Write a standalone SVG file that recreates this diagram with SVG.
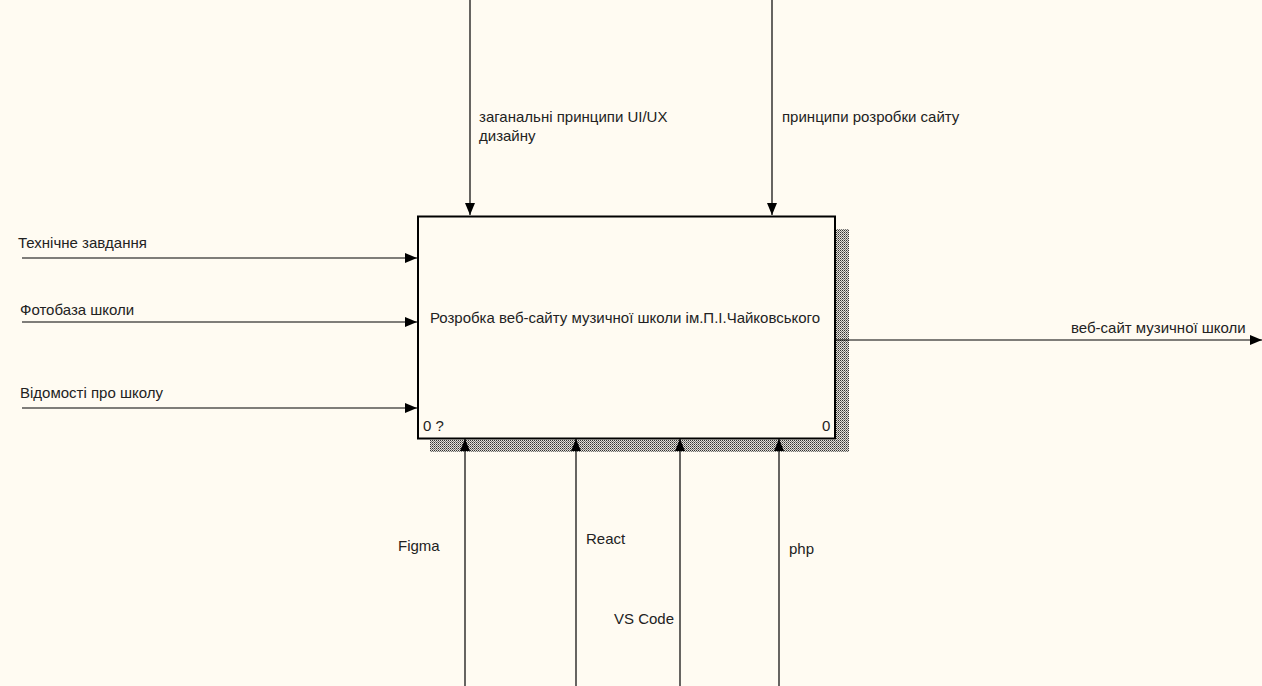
<svg xmlns="http://www.w3.org/2000/svg" width="1262" height="686" viewBox="0 0 1262 686">
<defs>
<pattern id="dots" width="2" height="2" patternUnits="userSpaceOnUse">
<rect width="2" height="2" fill="#e4e0d8"/>
<rect x="0" y="0" width="1" height="1" fill="#333"/>
<rect x="1" y="1" width="1" height="1" fill="#777"/>
</pattern>
<marker id="ah" markerWidth="12" markerHeight="10" refX="12" refY="5" orient="auto" markerUnits="userSpaceOnUse">
<path d="M0,0 L12,5 L0,10 Z" fill="#000"/>
</marker>
</defs>
<style>
.t{font-family:"Liberation Sans",Arial,sans-serif;font-size:15px;fill:#222}
.c{stroke:#000;stroke-width:1.2;fill:none;marker-end:url(#ah)}
</style>
<rect width="1262" height="686" fill="#fffbf2"/>
<g id="node-A0">
<rect x="836" y="229" width="13" height="223" fill="url(#dots)"/>
<rect x="430" y="440" width="419" height="12" fill="url(#dots)"/>
<rect x="418" y="216.5" width="417" height="222" fill="#fffbf2" stroke="#000" stroke-width="2"/>
<text class="t" x="625" y="323" text-anchor="middle">Розробка веб-сайту музичної школи ім.П.І.Чайковського</text>
<text class="t" x="423" y="431">0 ?</text>
<text class="t" x="822" y="431">0</text>
</g>
<g id="connectors">
<line class="c" x1="470" y1="0" x2="470" y2="215"/>
<line class="c" x1="772" y1="0" x2="772" y2="215"/>
<line class="c" x1="22" y1="258" x2="417" y2="258"/>
<line class="c" x1="22" y1="322" x2="417" y2="322"/>
<line class="c" x1="22" y1="408" x2="417" y2="408"/>
<line class="c" x1="836" y1="340" x2="1262" y2="340"/>
<line class="c" x1="465" y1="686" x2="465" y2="439"/>
<line class="c" x1="576" y1="686" x2="576" y2="439"/>
<line class="c" x1="680" y1="686" x2="680" y2="439"/>
<line class="c" x1="779" y1="686" x2="779" y2="439"/>
</g>
<g id="labels">
<text class="t" x="479" y="122">заганальні принципи UI/UX</text>
<text class="t" x="479" y="141">дизайну</text>
<text class="t" x="782" y="122">принципи розробки сайту</text>
<text class="t" x="18" y="248">Технічне завдання</text>
<text class="t" x="20" y="315">Фотобаза школи</text>
<text class="t" x="20" y="398">Відомості про школу</text>
<text class="t" x="1071" y="333">веб-сайт музичної школи</text>
<text class="t" x="398" y="551">Figma</text>
<text class="t" x="586" y="544">React</text>
<text class="t" x="614" y="624">VS Code</text>
<text class="t" x="789" y="554">php</text>
</g>
</svg>
